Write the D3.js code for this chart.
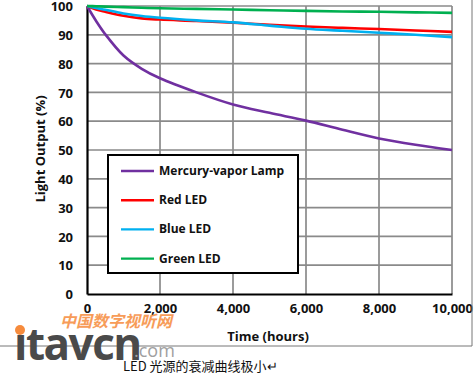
<!DOCTYPE html>
<html>
<head>
<meta charset="utf-8">
<script src="https://cdn.jsdelivr.net/npm/d3@7"></script>
<style>
  body { margin: 0; background: #fff; }
  svg { display: block; }
  .tick text { font-family: "Open Sans", "Noto Sans", sans-serif; font-weight: bold; font-size: 13px; fill: #111; }
</style>
</head>
<body>
<svg id="chart"></svg>
<script>
(function() {

  const hours = [0, 250, 500, 1000, 1500, 2000, 3000, 4000, 5000, 6000, 7000, 8000, 9000, 10000];
  const mercury = [100, 94.8, 90.2, 82.8, 78.2, 74.9, 70, 65.8, 62.9, 60.2, 57, 54, 51.8, 50];
  const redLed = [100, 98.8, 98, 96.6, 95.7, 95.3, 94.8, 94.2, 93.5, 92.9, 92.4, 92, 91.5, 91];
  const blueLed = [100, 99.3, 98.7, 97.4, 96.5, 95.9, 95, 94.3, 93.2, 92.1, 91.4, 90.7, 90, 89.2];
  const greenLed = [100, 99.9, 99.8, 99.6, 99.4, 99.2, 99, 98.8, 98.5, 98.3, 98.1, 98, 97.8, 97.6];

  const seriesNames = ['Mercury-vapor Lamp', 'Red LED', 'Blue LED', 'Green LED'];
  const seriesColors = ['#7030a0', '#ff0000', '#00b0f0', '#00b050'];
  const seriesValues = [mercury, redLed, blueLed, greenLed];

  const xTicks = [0, 2000, 4000, 6000, 8000, 10000];
  const yTicks = [0, 10, 20, 30, 40, 50, 60, 70, 80, 90, 100];

  const width = 474;
  const height = 375;
  const margin = { left: 87, right: 22, top: 6, bottom: 81 };

  const svg = d3.select('#chart')
    .attr('width', width)
    .attr('height', height);

  const x = d3.scaleLinear().domain([0, 10000]).range([margin.left, width - margin.right]);
  const y = d3.scaleLinear().domain([0, 100]).range([height - margin.bottom, margin.top]);

  // grid
  const grid = svg.append('g').attr('class', 'grid');
  grid.selectAll('line.h')
    .data(yTicks.slice(1))
    .enter().append('line')
    .attr('x1', x(0)).attr('x2', x(10000))
    .attr('y1', d => y(d)).attr('y2', d => y(d))
    .attr('stroke', '#8a8a8a').attr('stroke-width', 1.7);
  grid.selectAll('line.v')
    .data(xTicks.slice(1))
    .enter().append('line')
    .attr('y1', y(0)).attr('y2', y(100))
    .attr('x1', d => x(d)).attr('x2', d => x(d))
    .attr('stroke', '#8a8a8a').attr('stroke-width', 1.7);

  // axes
  const yAxis = svg.append('g')
    .attr('transform', 'translate(' + x(0) + ',0)')
    .call(d3.axisLeft(y).tickValues(yTicks).tickSize(0).tickPadding(14));
  yAxis.select('.domain').attr('stroke', '#000').attr('stroke-width', 2.2);
  yAxis.selectAll('.tick text').attr('dy', '0.36em');

  const xAxis = svg.append('g')
    .attr('transform', 'translate(0,' + y(0) + ')')
    .call(d3.axisBottom(x).tickValues(xTicks).tickSize(0).tickPadding(10)
      .tickFormat(d3.format(',')));
  xAxis.select('.domain').attr('stroke', '#000').attr('stroke-width', 2.2);

  // lines
  const line = d3.line()
    .x((d, i) => x(hours[i]))
    .y(d => y(d))
    .curve(d3.curveCatmullRom.alpha(0.5));

  svg.append('g').selectAll('path')
    .data(seriesValues)
    .enter().append('path')
    .attr('d', d => line(d))
    .attr('fill', 'none')
    .attr('stroke', (d, i) => seriesColors[i])
    .attr('stroke-width', 2.6);

  // legend
  const legend = svg.append('g').attr('class', 'legend');
  legend.append('rect')
    .attr('x', 108).attr('y', 155)
    .attr('width', 190).attr('height', 118)
    .attr('fill', '#fff').attr('stroke', '#000').attr('stroke-width', 2);

  const items = legend.selectAll('g.item')
    .data(seriesNames)
    .enter().append('g')
    .attr('transform', (d, i) => 'translate(121,' + (171 + i * 29.2) + ')');
  items.append('line')
    .attr('x1', 0).attr('x2', 33)
    .attr('stroke', (d, i) => seriesColors[i])
    .attr('stroke-width', 2.4);
  items.append('text')
    .attr('x', 38).attr('y', 4)
    .style('font-family', '"Open Sans", "Noto Sans", sans-serif')
    .style('font-weight', 'bold')
    .style('font-size', '12px')
    .attr('fill', '#111')
    .text(d => d);

  // axis titles
  svg.append('text')
    .attr('x', 268).attr('y', 341)
    .attr('text-anchor', 'middle')
    .style('font-family', '"Open Sans", "Noto Sans", sans-serif')
    .style('font-weight', 'bold')
    .style('font-size', '13px')
    .attr('fill', '#111')
    .text('Time (hours)');

  svg.append('text')
    .attr('transform', 'translate(45,149) rotate(-90)')
    .attr('text-anchor', 'middle')
    .style('font-family', '"Open Sans", "Noto Sans", sans-serif')
    .style('font-weight', 'bold')
    .style('font-size', '13px')
    .attr('fill', '#111')
    .text('Light Output (%)');

  // frame
  svg.append('line')
    .attr('x1', 0).attr('x2', 472).attr('y1', 346).attr('y2', 346)
    .attr('stroke', '#777').attr('stroke-width', 1);
  svg.append('line')
    .attr('x1', 472).attr('x2', 472).attr('y1', 0).attr('y2', 346)
    .attr('stroke', '#777').attr('stroke-width', 1);

  // watermark
  svg.append('text')
    .attr('x', 60).attr('y', 327)
    .style('font-family', '"Noto Sans CJK SC", sans-serif')
    .style('font-weight', 'bold')
    .style('font-style', 'italic')
    .style('font-size', '16px')
    .attr('fill', '#f68b3c')
    .attr('opacity', 0.85)
    .text('中国数字视听网');
  svg.append('text')
    .attr('x', 14).attr('y', 360)
    .style('font-family', '"Open Sans", sans-serif')
    .style('font-weight', 'bold')
    .style('font-size', '44px')
    .style('letter-spacing', '-1.5px')
    .attr('fill', '#4a4a4a')
    .text('ıtavcn');
  svg.append('circle')
    .attr('cx', 20).attr('cy', 330).attr('r', 5)
    .attr('fill', '#f68b3c');
  svg.append('text')
    .attr('x', 134).attr('y', 357)
    .style('font-family', '"Open Sans", sans-serif')
    .style('font-size', '18px')
    .attr('fill', '#a0a0a0')
    .text('.com');

  // caption
  svg.append('text')
    .attr('x', 123).attr('y', 371)
    .style('font-family', '"Noto Sans CJK SC", sans-serif')
    .style('font-size', '13px')
    .attr('fill', '#111')
    .text('LED 光源的衰减曲线极小↵');

})();
</script>
</body>
</html>
